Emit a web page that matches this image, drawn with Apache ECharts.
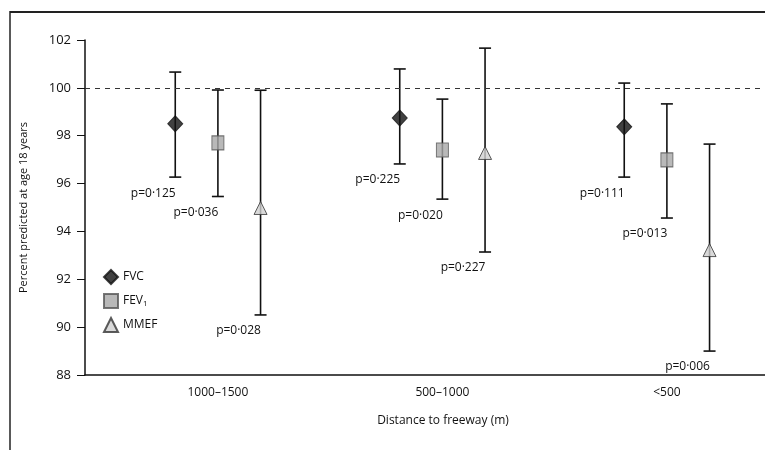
<!DOCTYPE html>
<html>
<head>
<meta charset="utf-8">
<script src="https://cdn.jsdelivr.net/npm/echarts@6/dist/echarts.min.js"></script>
<style>
  html, body { margin: 0; padding: 0; background: #fff; }
  #chart-container { width: 765px; height: 450px; }
</style>
</head>
<body>
<div id="chart-container"></div>
<script>
// distance groups on the x axis
var categories = ["1000\u20131500", "500\u20131000", "<500"];

// percent predicted, mean and 95% CI, per group
var fvcMean = [98.5, 98.74, 98.37];
var fvcLow = [96.27, 96.82, 96.27];
var fvcHigh = [100.66, 100.79, 100.2];
var fvcP = ["p=0\u00b7125", "p=0\u00b7225", "p=0\u00b7111"];

var fev1Mean = [97.7, 97.4, 96.99];
var fev1Low = [95.46, 95.35, 94.56];
var fev1High = [99.91, 99.53, 99.33];
var fev1P = ["p=0\u00b7036", "p=0\u00b7020", "p=0\u00b7013"];

var mmefMean = [94.98, 97.28, 93.22];
var mmefLow = [90.51, 93.14, 89.0];
var mmefHigh = [99.9, 101.66, 97.65];
var mmefP = ["p=0\u00b7028", "p=0\u00b7227", "p=0\u00b7006"];

var FONT = "Open Sans";
var INK = "#111";

var dom = document.getElementById("chart-container");
var myChart = echarts.init(dom, null, { renderer: "canvas" });

// builds rows [x, low, high, mean, pLabel] with a small side offset per measure
const buildRows = (offset, mean, low, high, p) => {
  let rows = [];
  for (let i = 0; i < categories.length; i++) {
    rows.push([i + offset, low[i], high[i], mean[i], p[i]]);
  }
  return rows;
};

var fvcRows = buildRows(-0.19, fvcMean, fvcLow, fvcHigh, fvcP);
var fev1Rows = buildRows(0, fev1Mean, fev1Low, fev1High, fev1P);
var mmefRows = buildRows(0.19, mmefMean, mmefLow, mmefHigh, mmefP);

// whisker with caps plus the p value under the lower cap
var renderBar = function (params, api) {
  var top = api.coord([api.value(0), api.value(2)]);
  var bot = api.coord([api.value(0), api.value(1)]);
  var cap = 6;
  var st = { stroke: INK, lineWidth: 1.6 };
  return {
    type: "group",
    children: [
      { type: "line", shape: { x1: top[0], y1: top[1], x2: bot[0], y2: bot[1] }, style: st },
      { type: "line", shape: { x1: top[0] - cap, y1: top[1], x2: top[0] + cap, y2: top[1] }, style: st },
      { type: "line", shape: { x1: bot[0] - cap, y1: bot[1], x2: bot[0] + cap, y2: bot[1] }, style: st },
      {
        type: "text",
        style: {
          text: api.value(4),
          x: bot[0] - 22,
          y: bot[1] + 16,
          align: "center",
          verticalAlign: "middle",
          fill: INK,
          font: "12px '" + FONT + "'"
        }
      }
    ]
  };
};

const errorSeries = (name, rows) => ({
  name: name,
  type: "custom",
  renderItem: renderBar,
  data: rows,
  encode: { x: 0, y: [1, 2] },
  z: 2,
  silent: true
});

const pointSeries = (name, rows, symbol, size, color, border) => ({
  name: name,
  type: "scatter",
  symbol: symbol,
  symbolSize: size,
  data: rows.map(function (r) { return [r[0], r[3]]; }),
  itemStyle: { color: color, borderColor: border, borderWidth: 1 },
  z: 5
});

var option = {
  backgroundColor: "#fff",
  animation: false,
  textStyle: { fontFamily: FONT },
  graphic: [
    {
      type: "line",
      z: 100,
      shape: { x1: 10, y1: 12, x2: 765, y2: 12 },
      style: { stroke: "#222", lineWidth: 2 }
    },
    {
      type: "line",
      z: 100,
      shape: { x1: 10, y1: 11, x2: 10, y2: 450 },
      style: { stroke: "#222", lineWidth: 1.5 }
    }
  ],
  grid: { left: 85, right: 0, top: 40, bottom: 75 },
  legend: {
    orient: "vertical",
    left: 98,
    top: 264,
    itemGap: 8,
    itemWidth: 14,
    itemHeight: 14,
    data: ["FVC", "FEV1", "MMEF"],
    textStyle: {
      fontFamily: FONT,
      fontSize: 12,
      color: INK,
      rich: { sub: { fontSize: 8, verticalAlign: "bottom", padding: [6, 0, 0, 0], fontFamily: FONT, color: INK } }
    },
    formatter: function (n) { return n === "FEV1" ? "FEV{sub|1}" : n; }
  },
  xAxis: {
    type: "value",
    min: -0.592,
    max: 2.437,
    name: "Distance to freeway (m)",
    nameLocation: "middle",
    nameGap: 40,
    nameTextStyle: { fontFamily: FONT, fontSize: 12, color: INK, padding: [0, 0, 0, 36] },
    axisLine: { show: true, onZero: false, lineStyle: { color: INK, width: 1.5 } },
    axisTick: { show: false },
    splitLine: { show: false },
    axisLabel: {
      customValues: [0, 1, 2],
      formatter: function (v) { return categories[Math.round(v)]; },
      fontFamily: FONT,
      fontSize: 12,
      color: INK,
      margin: 12
    }
  },
  yAxis: {
    type: "value",
    min: 88,
    max: 102,
    interval: 2,
    name: "Percent predicted at age 18 years",
    nameLocation: "middle",
    nameGap: 56,
    nameTextStyle: { fontFamily: FONT, fontSize: 11, color: INK },
    axisLine: { show: true, onZero: false, lineStyle: { color: INK, width: 1.5 } },
    axisTick: { show: true, inside: false, length: 8, lineStyle: { color: INK } },
    splitLine: { show: false },
    axisLabel: { fontFamily: FONT, fontSize: 13, color: INK, margin: 14 }
  },
  series: [
    errorSeries("FVC bars", fvcRows),
    errorSeries("FEV1 bars", fev1Rows),
    errorSeries("MMEF bars", mmefRows),
    Object.assign(pointSeries("FVC", fvcRows, "diamond", [15, 16], "#111", "#111"), {
      markLine: {
        silent: true,
        symbol: "none",
        label: { show: false },
        lineStyle: { color: "#333", type: [5, 5], width: 1.2 },
        data: [{ yAxis: 100 }]
      }
    }),
    pointSeries("FEV1", fev1Rows, "rect", [12, 14], "#a8a8a8", "#555"),
    pointSeries("MMEF", mmefRows, "triangle", [13, 13], "#d0d0d0", "#333")
  ]
};

myChart.setOption(option);
window.addEventListener("resize", myChart.resize);
</script>
</body>
</html>
